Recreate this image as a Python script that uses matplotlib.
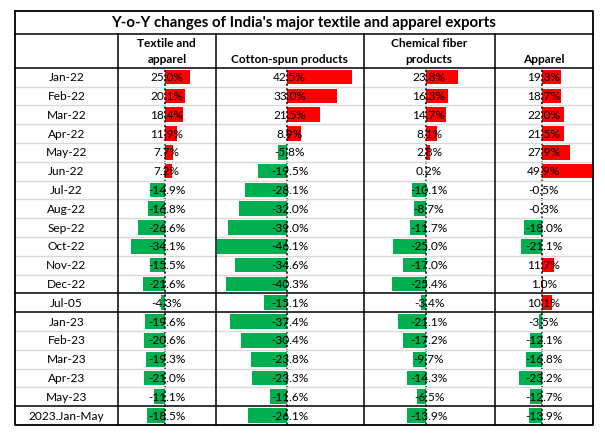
import matplotlib.pyplot as plt

plt.rcParams['font.family'] = ['Lato', 'DejaVu Sans']

# table data (Y-o-Y change, %)
periods = ['Jan-22', 'Feb-22', 'Mar-22', 'Apr-22', 'May-22', 'Jun-22', 'Jul-22', 'Aug-22',
           'Sep-22', 'Oct-22', 'Nov-22', 'Dec-22', 'Jul-05', 'Jan-23', 'Feb-23', 'Mar-23',
           'Apr-23', 'May-23', '2023.Jan-May']
textile_apparel = [25.0, 20.1, 18.4, 11.9, 7.7, 7.2, -14.9, -16.8, -26.6, -34.1, -15.5, -21.6,
                   -4.3, -19.6, -20.6, -19.3, -21.0, -11.1, -18.5]
cotton_spun = [42.5, 33.0, 21.5, 8.9, -5.8, -19.5, -28.1, -32.0, -39.0, -46.1, -34.6, -40.3,
               -15.1, -37.4, -30.4, -23.8, -23.3, -11.6, -26.1]
chemical_fiber = [23.8, 16.3, 14.7, 8.1, 2.8, 0.2, -10.1, -8.7, -11.7, -25.0, -17.0, -25.4,
                  -3.4, -21.1, -17.2, -9.7, -14.3, -6.5, -13.9]
apparel = [19.3, 18.7, 22.0, 21.5, 27.9, 49.9, -0.5, -0.3, -18.0, -21.1, 11.7, 1.0,
           10.1, -3.5, -12.1, -16.8, -23.2, -12.7, -13.9]
headers = ['Textile and\napparel', 'Cotton-spun products', 'Chemical fiber\nproducts', 'Apparel']
title = "Y-o-Y changes of India's major textile and apparel exports"

series = [textile_apparel, cotton_spun, chemical_fiber, apparel]

# layout in pixels
W, H = 605, 437
left, right = 15, 593
top, title_bot, head_bot, bottom = 10.7, 34, 67.7, 425
col_edges = [15, 117.7, 216, 363.5, 494.5, 593]
zeros = [165, 287.3, 426, 542.3]
px_per_pct = [1.0, 1.52, 1.34, 0.99]
n = len(periods)
row_h = (bottom - head_bot) / n
red, green = '#FF0000', '#00B050'

fig = plt.figure(figsize=(W / 100, H / 100), dpi=100)

# data bars, one axes per column
for i, vals in enumerate(series):
    x0, x1 = col_edges[i + 1], col_edges[i + 2]
    bx = fig.add_axes([x0 / W, 1 - bottom / H, (x1 - x0) / W, (bottom - head_bot) / H], zorder=1)
    bx.barh(range(n), vals, height=0.78,
            color=[red if v > 0 else green for v in vals], linewidth=0)
    bx.axvline(0, color='black', linestyle=(0, (1.5, 1.5)), lw=1.1)
    bx.set_xlim(-(zeros[i] - x0) / px_per_pct[i], (x1 - zeros[i]) / px_per_pct[i])
    bx.set_ylim(n - 0.5, -0.5)
    bx.axis('off')

# grid, borders and text
ax = fig.add_axes([0, 0, 1, 1], zorder=2)
ax.set_xlim(0, W)
ax.set_ylim(H, 0)
ax.axis('off')
ax.patch.set_alpha(0)

for r in range(1, n):
    y = head_bot + r * row_h
    if periods[r] in ('Jul-05', 'Jan-23', '2023.Jan-May'):
        ax.plot([left, right], [y, y], color='black', lw=1.1)
    else:
        ax.plot([left, right], [y, y], color='#D9D9D9', lw=1.0)

for y in (title_bot, head_bot):
    ax.plot([left, right], [y, y], color='black', lw=1.1)
for x in col_edges[1:-1]:
    ax.plot([x, x], [title_bot, bottom], color='black', lw=1.1)
ax.plot([left, right, right, left, left], [top, top, bottom, bottom, top], color='black', lw=1.3)

ax.text((left + right) / 2, (top + title_bot) / 2 + 0.5, title, ha='center', va='center',
        fontsize=10.8, fontweight='bold')
for i, h in enumerate(headers):
    cx = (col_edges[i + 1] + col_edges[i + 2]) / 2
    ax.text(cx, head_bot - 2.5, h, ha='center', va='bottom', fontsize=8.6,
            fontweight='bold', linespacing=1.55)

for r, p in enumerate(periods):
    cy = head_bot + (r + 0.5) * row_h + 0.5
    ax.text((col_edges[0] + col_edges[1]) / 2, cy, p, ha='center', va='center', fontsize=8.6)
    for i, vals in enumerate(series):
        cx = (col_edges[i + 1] + col_edges[i + 2]) / 2
        ax.text(cx, cy, f'{vals[r]:.1f}%', ha='center', va='center', fontsize=8.6)

fig.savefig('out.png', dpi=100)
